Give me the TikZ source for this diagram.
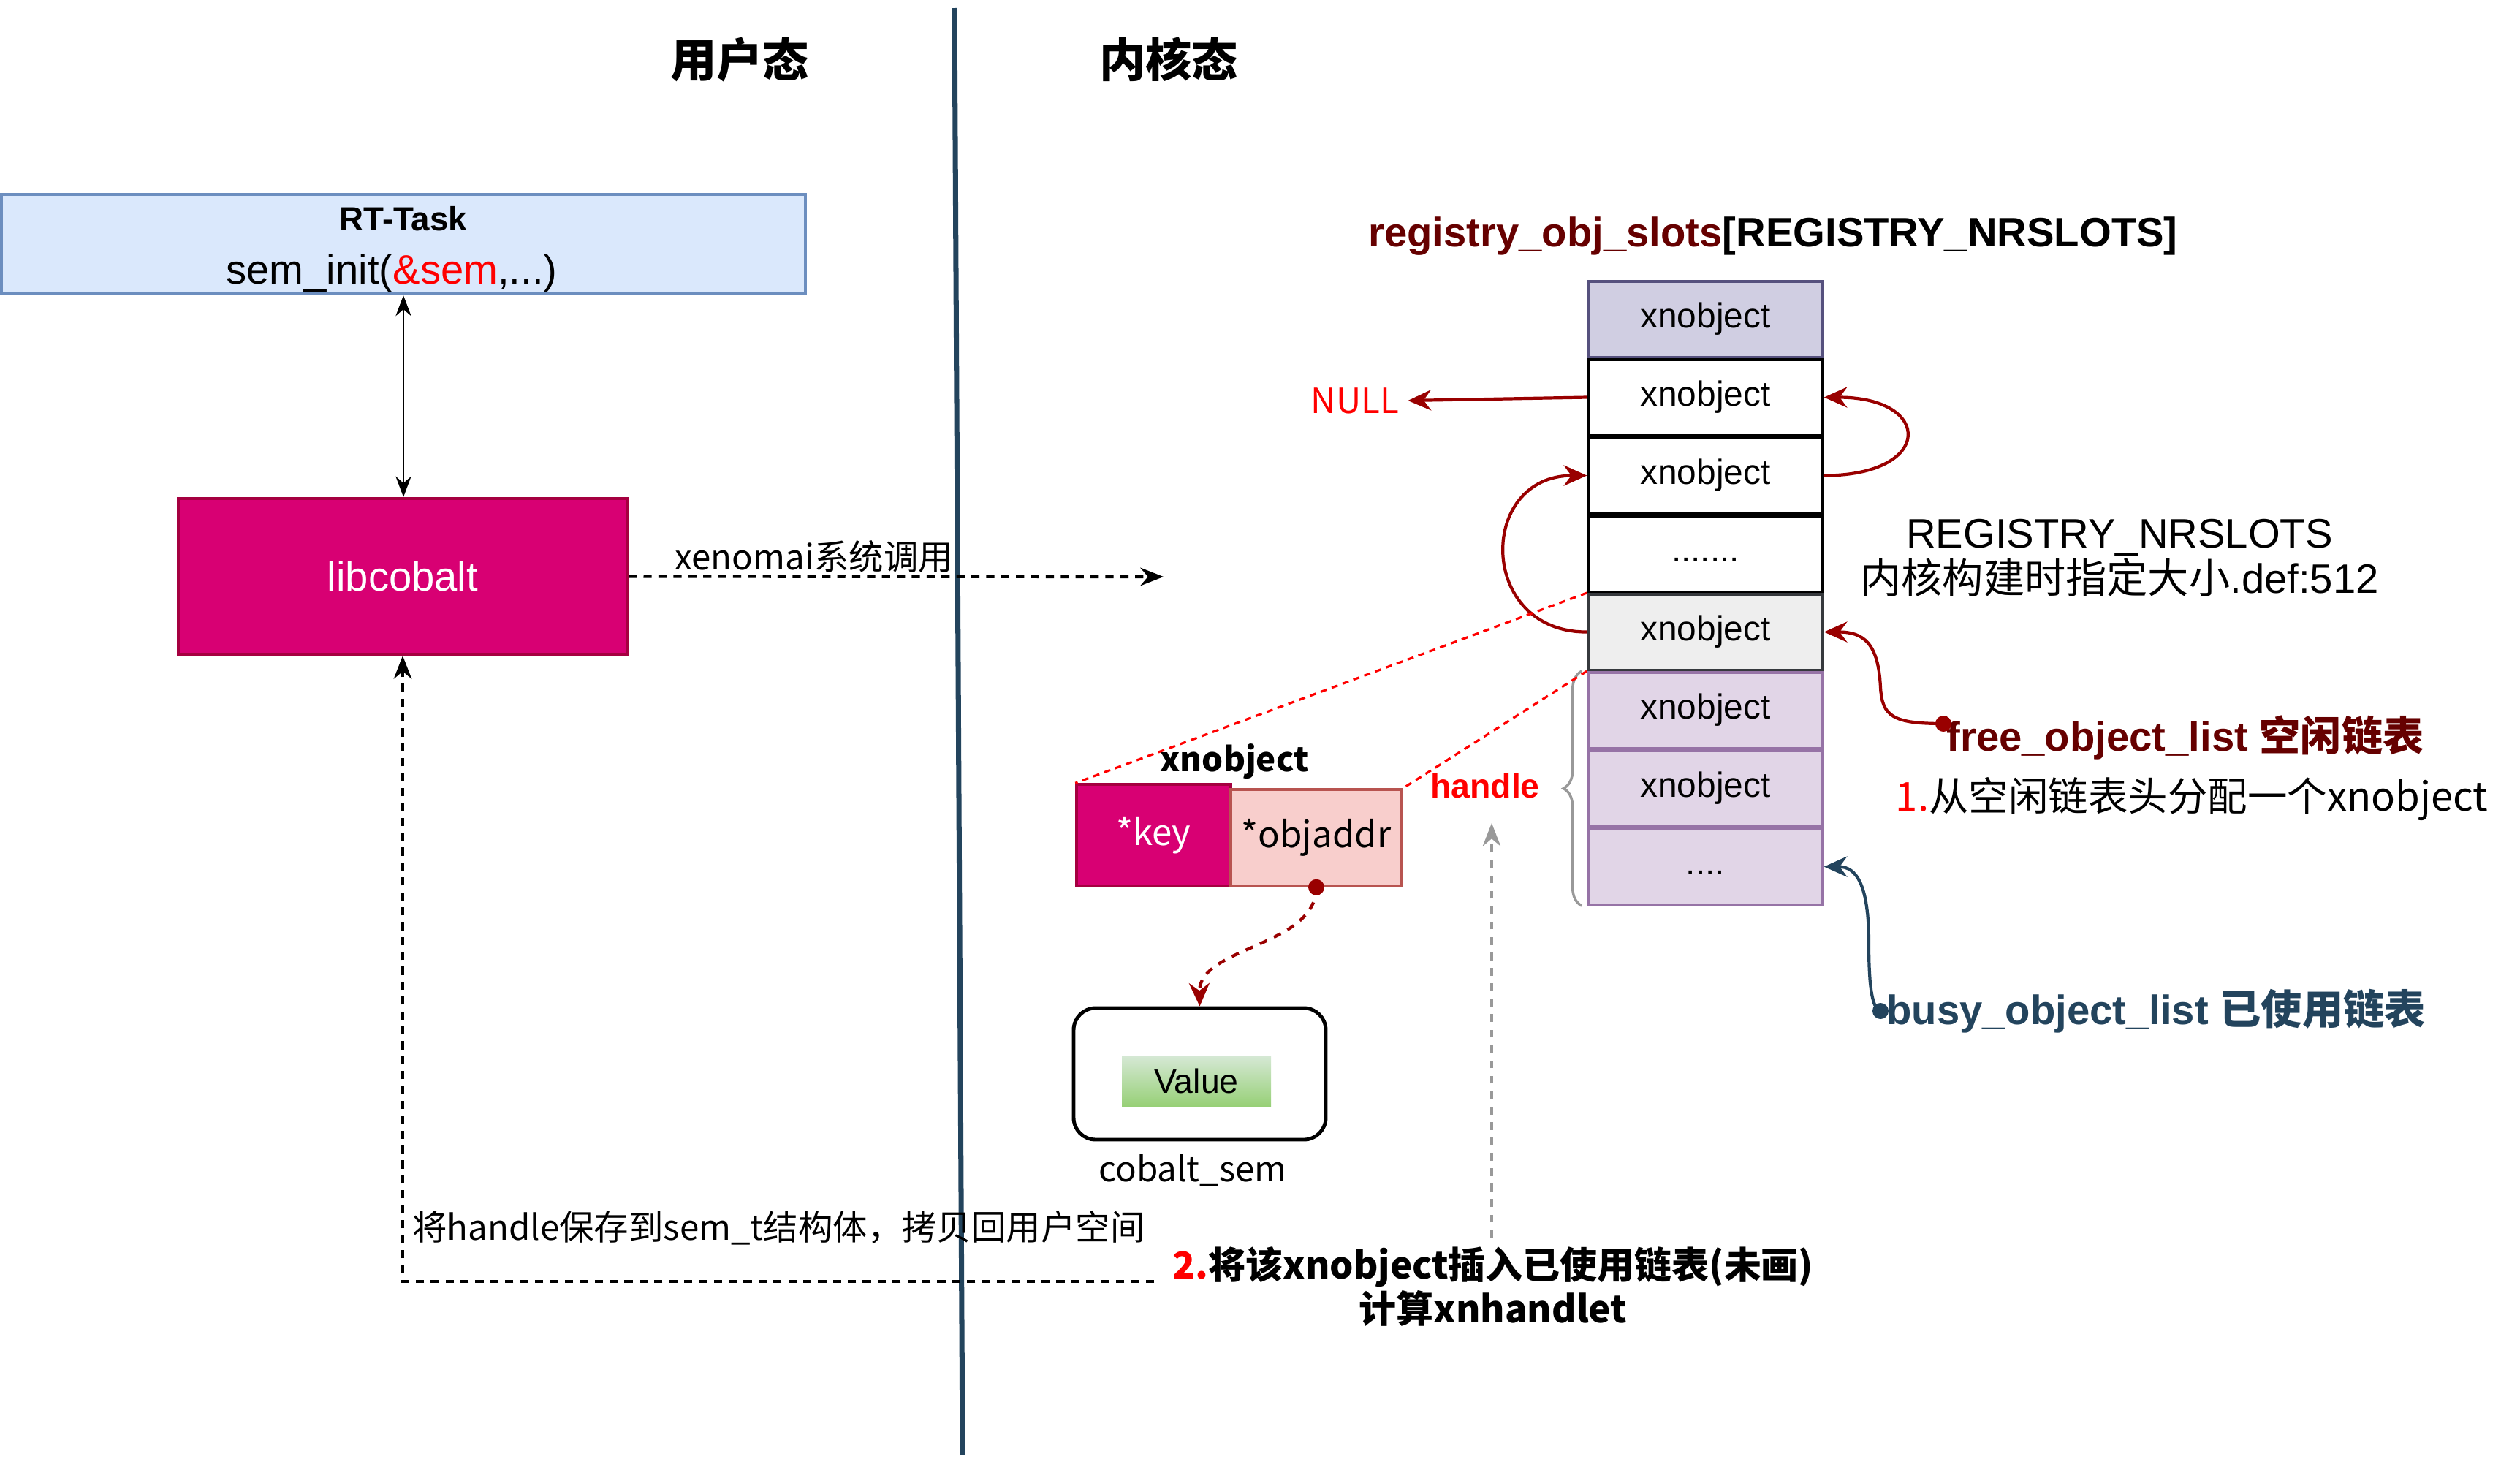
\documentclass[tikz,border=0pt]{standalone}
\usepackage{fontspec}
\setmainfont{Liberation Sans}
\newfontfamily\cjk{Noto Sans CJK SC}
\usetikzlibrary{arrows.meta,positioning,decorations.pathreplacing}
\definecolor{rtfill}{HTML}{DAE8FC}
\definecolor{rtline}{HTML}{6C8EBF}
\definecolor{cobaltpink}{HTML}{D80073}
\definecolor{cobaltline}{HTML}{A50040}
\definecolor{addrfill}{HTML}{F8CECC}
\definecolor{addrline}{HTML}{B85450}
\definecolor{slothead}{HTML}{D0CEE2}
\definecolor{slotheadline}{HTML}{56517E}
\definecolor{slotgray}{HTML}{EEEEEE}
\definecolor{slotgrayline}{HTML}{36393D}
\definecolor{slotbusy}{HTML}{E1D5E7}
\definecolor{slotbusyline}{HTML}{9673A6}
\definecolor{darkred}{HTML}{990000}
\definecolor{deepred}{HTML}{660000}
\definecolor{navy}{HTML}{23445D}
\definecolor{valtop}{HTML}{D5E8D4}
\definecolor{valbot}{HTML}{97D077}
\definecolor{braceg}{HTML}{999999}
\newcommand{\fsz}[2]{\fontsize{#1}{#2}\selectfont}
\begin{document}
\begin{tikzpicture}[
slot/.style={draw,line width=1pt,minimum width=3.21cm,minimum height=1.035cm,font=\fsz{13.6}{16}},
note/.style={font=\cjk\fsz{13.5}{16}},
listdot/.style={circle,inner sep=0,minimum size=0.22cm},
link/.style={-{Stealth[length=9pt,width=8pt]},darkred,line width=1.2pt},
tip/.style={-{Stealth[length=9pt,width=7pt]}},
]
\useasboundingbox(0,0)rectangle(34.48,-20);

%modes
\node[font=\cjk\bfseries\fsz{18}{20}](usr)at(10.12,-0.81){用户态};
\node[font=\cjk\bfseries\fsz{18}{20}](krn)at(15.99,-0.81){内核态};
\coordinate(divtop)at(13.06,-0.11);
\coordinate(divbot)at(13.17,-19.9);
\draw[navy,line width=2pt](divtop)--(divbot);

%user side
\node[draw=rtline,fill=rtfill,line width=1.2pt,minimum width=11cm,minimum height=1.36cm](rttask)at(5.52,-3.34){};
\node[font=\bfseries\fsz{13}{16}](rtname)at(5.52,-2.99){RT-Task};
\node[font=\fsz{16}{19}](rtcall)at(5.36,-3.74){sem\_init(\textcolor{red}{\&sem},...)};
\node[draw=cobaltline,fill=cobaltpink,text=white,line width=1.2pt,minimum width=6.14cm,minimum height=2.13cm,font=\fsz{16}{19}](libcobalt)at(5.51,-7.885){libcobalt};
\draw[{Stealth[length=8pt,width=6pt]}-{Stealth[length=8pt,width=6pt]},line width=0.8pt](rttask.south)--(rttask.south|-libcobalt.north);

%system call
\coordinate(sysend)at(15.92,-7.89);
\draw[tip,dash pattern=on 3.2pt off 2.6pt,line width=1.2pt](libcobalt.east)--(sysend);
\node[note](syscall)at(11.14,-7.61){xenomai系统调用};

%copy back
\coordinate(retstart)at(15.79,-17.53);
\draw[tip,dash pattern=on 3.2pt off 2.6pt,line width=1pt](retstart)-|(libcobalt.south);
\node[note,anchor=west](savehdl)at(5.52,-16.80){将handle保存到sem\_t结构体，拷贝回用户空间};

%step 2
\node[font=\cjk\bfseries\fsz{14.5}{17},align=center](step2)at(20.43,-17.6){\textcolor{red}{2.}将该xnobject插入已使用链表(未画)\\计算xnhandlet};
\coordinate(hdlup)at(20.41,-11.26);
\draw[tip,braceg,dashed,line width=1pt](step2.north-|hdlup)--(hdlup);

%registry slots
\node[font=\bfseries\fsz{16}{19}](regtitle)at(24.26,-3.23){\textcolor{deepred}{registry\_obj\_slots}[REGISTRY\_NRSLOTS]};
\node[slot,fill=slothead,draw=slotheadline](s1)at(23.335,-4.365){xnobject};
\node[slot,fill=white](s2)[below=0pt of s1]{xnobject};
\node[slot,fill=white](s3)[below=0pt of s2]{xnobject};
\node[slot,fill=white](s4)[below=0pt of s3]{\strut.......};
\node[slot,fill=slotgray,draw=slotgrayline](s5)[below=0pt of s4]{xnobject};
\node[slot,fill=slotbusy,draw=slotbusyline](s6)[below=0pt of s5]{xnobject};
\node[slot,fill=slotbusy,draw=slotbusyline](s7)[below=0pt of s6]{xnobject};
\node[slot,fill=slotbusy,draw=slotbusyline](s8)[below=0pt of s7]{\strut....};

%links between slots
\node[note,text=red](null)at(18.54,-5.48){NULL};
\draw[link](s2.west)--(null.east);
\draw[link](s3.east)..controls +(1.5,0)and +(1.5,0)..(s2.east);
\draw[link](s5.west)..controls +(-1.5,0)and +(-1.5,0)..(s3.west);

\node[align=center,font=\fsz{16}{17.6}](nrslots)at(29.0,-7.63){REGISTRY\_NRSLOTS\\{\cjk 内核构建时指定大小}.def:512};

%free list
\node[font=\bfseries\fsz{16}{19},text=deepred](freelst)at(29.9,-10.09){free\_object\_list {\cjk 空闲链表}};
\node[listdot,fill=darkred](fdot)at(26.59,-9.90){};
\draw[link](fdot.center)..controls(25.9,-9.9)and(25.75,-9.8)..(25.73,-9.4)..controls(25.7,-8.8)and(25.5,-8.645)..(s5.east);
\node[font=\cjk\fsz{15.5}{18}](step1)at(29.99,-10.93){\textcolor{red}{1.}从空闲链表头分配一个xnobject};

%busy list
\node[font=\bfseries\fsz{16}{19},text=navy](busylst)at(29.5,-13.83){busy\_object\_list {\cjk 已使用链表}};
\node[listdot,fill=navy](bdot)at(25.73,-13.83){};
\draw[-{Stealth[length=9pt,width=8pt]},navy,line width=1.2pt](bdot.center)..controls(25.6,-13.8)and(25.57,-13.4)..(25.57,-12.9)..controls(25.57,-12.1)and(25.4,-11.855)..(s8.east);

%handle
\draw[decorate,decoration={brace,amplitude=0.25cm},braceg,line width=1pt]([xshift=-2pt]s8.south west)--([xshift=-2pt]s6.north west);
\node[font=\bfseries\fsz{13.2}{16},text=red](handle)at(20.32,-10.75){handle};

%xnobject struct
\node[draw=cobaltline,fill=cobaltpink,text=white,line width=1pt,minimum width=2.11cm,minimum height=1.39cm,font=\cjk\fsz{14}{16}](key)at(15.785,-11.425){*key};
\node[draw=addrline,fill=addrfill,line width=1pt,minimum width=2.34cm,minimum height=1.32cm,font=\cjk\fsz{14}{16}](objaddr)at(18.01,-11.46){*objaddr};
\node[font=\cjk\bfseries\fsz{13}{16}](structlbl)at(16.89,-10.42){xnobject};
\draw[red,dash pattern=on 2.5pt off 2pt,line width=0.9pt](s5.north west)--(key.north west);
\draw[red,dash pattern=on 2.5pt off 2pt,line width=0.9pt](s6.north west)--(objaddr.north east);

%cobalt_sem
\node[draw,rounded corners=0.3cm,line width=1.4pt,minimum width=3.45cm,minimum height=1.8cm](sem)at(16.415,-14.69){};
\node[top color=valtop,bottom color=valbot,minimum width=2.04cm,minimum height=0.68cm,font=\fsz{13.2}{16}](value)at(16.37,-14.79){Value};
\node[note](semlbl)at(16.32,-16.01){cobalt\_sem};
\node[listdot,fill=darkred](adot)at(objaddr.south){};
\draw[link,dashed](adot.center)..controls(18.01,-12.95)and(16.4,-12.95)..(sem.north);

\end{tikzpicture}
\end{document}
